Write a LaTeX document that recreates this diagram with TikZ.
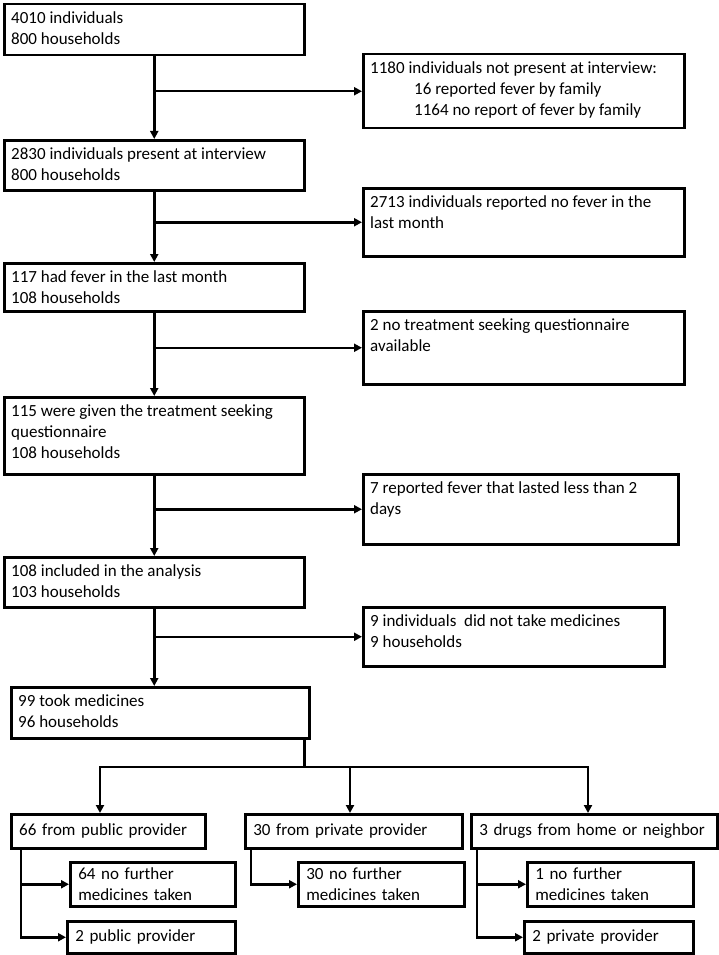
\documentclass[tikz,border=0pt]{standalone}
\usepackage{fontspec}
\setmainfont{Carlito}
\usetikzlibrary{arrows.meta,calc}
\tikzset{
  every node/.style={font=\fontsize{17}{21}\selectfont},
  box/.style={draw, line width=2.5pt, fill=white, inner sep=0pt, anchor=north west},
  txt/.style={anchor=north west, inner sep=0pt, align=left, xshift=8pt, yshift=-6pt},
  arr/.style={line width=2.5pt, -{Triangle[length=8pt,width=8pt]}},
}
\newcommand\tbx[6]{%
  \pgfmathsetmacro\bw{#4-#2}\pgfmathsetmacro\bh{#5-#3}%
  \node[box, minimum width=\bw pt, minimum height=\bh pt,
        label={[txt]north west:{\rule{0pt}{14pt}#6}}] (#1) at (#2,#3) {};}
\newcommand\cbx[6]{%
  \pgfmathsetmacro\bw{#4-#2}\pgfmathsetmacro\bh{#5-#3}\pgfmathsetmacro\tw{#4-#2-16}%
  \node[box, minimum width=\bw pt, minimum height=\bh pt, text width=\tw pt,
        inner xsep=8pt, align=left] (#1) at (#2,#3) {#6};}
\begin{document}
\begin{tikzpicture}[x=1pt,y=-1pt]
\useasboundingbox (0,0) rectangle (719,955);
\tbx{b1}{3}{3}{303}{54}{4010 individuals\\800 households}
\tbx{r1}{362}{53}{683}{127}{1180 individuals not present at interview:\\\hspace*{44pt}16 reported fever by family\\\hspace*{44pt}1164 no report of fever by family}
\tbx{b2}{3}{139}{303}{189}{2830 individuals present at interview\\800 households}
\tbx{r2}{362}{187}{683}{255}{2713 individuals reported no fever in the\\last month}
\tbx{b3}{3}{262}{303}{310}{117 had fever in the last month\\108 households}
\tbx{r3}{362}{310}{683}{383}{2 no treatment seeking questionnaire\\available}
\tbx{b4}{3}{396}{303}{473}{115 were given the treatment seeking\\questionnaire\\108 households}
\tbx{r4}{362}{473}{677}{543}{7 reported fever that lasted less than 2\\days}
\tbx{b5}{3}{556}{303}{606}{108 included in the analysis\\103 households}
\tbx{r5}{362}{606}{663}{665}{9 individuals\ \ did not take medicines\\9 households}
\tbx{b6}{10}{686}{308}{737}{99 took medicines\\96 households}

\draw[arr] (b1.south) -- (b2.north);
\draw[arr] (b1.south |- r1.west) -- (r1.west);
\draw[arr] (b2.south) -- (b3.north);
\draw[arr] (b2.south |- r2.west) -- (r2.west);
\draw[arr] (b3.south) -- (b4.north);
\draw[arr] (b3.south |- r3.west) -- (r3.west);
\draw[arr] (b4.south) -- (b5.north);
\draw[arr] (b4.south |- r4.west) -- (r4.west);
\draw[arr] (b5.south) -- (b5.south |- b6.north);
\draw[arr] (b5.south |- r5.west) -- (r5.west);

\cbx{b7}{10}{813}{204}{847}{66 from public provider}
\cbx{b8}{244}{813}{461}{847}{30 from private provider}
\cbx{b9}{470}{813}{716}{847}{3 drugs from home or neighbor}
\cbx{c1}{69}{861}{234}{905}{64 no further\\medicines taken}
\cbx{c2}{66}{920}{234}{952}{2 public provider}
\cbx{c3}{297}{861}{463}{905}{30 no further\\medicines taken}
\cbx{c4}{526}{861}{692}{905}{1 no further\\medicines taken}
\cbx{c5}{523}{920}{692}{952}{2 private provider}

\coordinate (s0) at ($(b6.south east)+(-6,0)$);
\coordinate (h1) at (100,767);
\coordinate (h2) at (350,767);
\coordinate (h3) at (588,767);
\draw[arr] (s0) |- (h1) -- (h1 |- b7.north);
\draw[arr] (s0) |- (h3) -- (h3 |- b9.north);
\draw[arr] (h2) -- (h2 |- b8.north);

\coordinate (v1) at ($(b7.south west)+(11,0)$);
\coordinate (v2) at ($(b8.south west)+(7,0)$);
\coordinate (v3) at ($(b9.south west)+(7,0)$);
\draw[arr] (v1) |- (c2.west);
\draw[arr] (v1 |- c1.west) -- (c1.west);
\draw[arr] (v2) |- (c3.west);
\draw[arr] (v3) |- (c5.west);
\draw[arr] (v3 |- c4.west) -- (c4.west);
\end{tikzpicture}
\end{document}
